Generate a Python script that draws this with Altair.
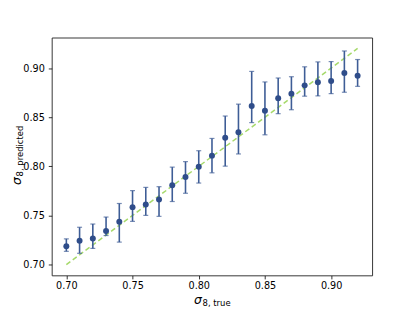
import altair as alt
import pandas as pd

# sigma_8 true values
true_vals = [0.70, 0.71, 0.72, 0.73, 0.74, 0.75, 0.76, 0.77, 0.78, 0.79, 0.80, 0.81,
             0.82, 0.83, 0.84, 0.85, 0.86, 0.87, 0.88, 0.89, 0.90, 0.91, 0.92]
# predicted mean
pred_vals = [0.7186, 0.7242, 0.7266, 0.7343, 0.7437, 0.7585, 0.7612, 0.7662, 0.7808,
             0.7891, 0.7995, 0.8109, 0.8290, 0.8347, 0.8613, 0.8566, 0.8693, 0.8740,
             0.8824, 0.8855, 0.8869, 0.8949, 0.8922]
# error bar lower / upper ends
err_low = [0.7135, 0.7115, 0.7165, 0.7296, 0.7229, 0.7440, 0.7501, 0.7491, 0.7642,
           0.7726, 0.7830, 0.7934, 0.8002, 0.8126, 0.8445, 0.8321, 0.8536, 0.8576,
           0.8714, 0.8717, 0.8740, 0.8754, 0.8814]
err_high = [0.7262, 0.7380, 0.7413, 0.7484, 0.7622, 0.7753, 0.7786, 0.7793, 0.7992,
            0.8048, 0.8159, 0.8284, 0.8512, 0.8633, 0.8966, 0.8859, 0.8899, 0.8912,
            0.9013, 0.9063, 0.9066, 0.9174, 0.9087]
# identity reference line
line_vals = [0.70, 0.92]
tick_vals = [0.70, 0.75, 0.80, 0.85, 0.90]

df = pd.DataFrame({"t": true_vals, "p": pred_vals, "lo": err_low, "hi": err_high})
line_df = pd.DataFrame({"t": line_vals, "p": line_vals})

xs = alt.Scale(domain=[0.689, 0.931], nice=False, zero=False)
ys = alt.Scale(domain=[0.689, 0.931], nice=False, zero=False)

font = "DejaVu Sans"
xax = alt.Axis(values=tick_vals, format=".2f", title=None, grid=False, domain=False,
               tickSize=3.5, tickWidth=0.8, tickColor="#000", labelPadding=2,
               labelFontSize=9.7, labelColor="#000", labelFont=font)
yax = alt.Axis(values=tick_vals, format=".2f", title=None, grid=False, domain=False,
               tickSize=3.5, tickWidth=0.8, tickColor="#000", labelPadding=4,
               labelFontSize=9.7, labelColor="#000", labelFont=font)

base = alt.Chart(df)

line = alt.Chart(line_df).mark_line(color="#a6d96a", strokeDash=[5, 3], strokeWidth=1.5).encode(
    x=alt.X("t:Q", scale=xs, axis=xax),
    y=alt.Y("p:Q", scale=ys, axis=yax),
)

bars = base.mark_rule(color="#3e5d96", strokeWidth=1.6).encode(
    x=alt.X("t:Q", scale=xs), y=alt.Y("lo:Q", scale=ys), y2="hi:Q"
)
cap_lo = base.mark_tick(orient="horizontal", color="#3e5d96", size=5, thickness=1.2).encode(
    x=alt.X("t:Q", scale=xs), y=alt.Y("lo:Q", scale=ys)
)
cap_hi = base.mark_tick(orient="horizontal", color="#3e5d96", size=5, thickness=1.2).encode(
    x=alt.X("t:Q", scale=xs), y=alt.Y("hi:Q", scale=ys)
)
pts = base.mark_point(filled=True, color="#2f4d8a", size=36, opacity=1).encode(
    x=alt.X("t:Q", scale=xs), y=alt.Y("p:Q", scale=ys)
)

one = alt.Data(values=[{"a": 1}])
xt1 = alt.Chart(one).mark_text(align="left", baseline="alphabetic", fontSize=12.5,
                               fontStyle="italic", font=font, color="#000").encode(
    text=alt.value("σ"), x=alt.value(143), y=alt.value(267.5))
xt2 = alt.Chart(one).mark_text(align="left", baseline="alphabetic", fontSize=8.5,
                               font=font, color="#000").encode(
    text=alt.value("8, true"), x=alt.value(151.5), y=alt.value(270))
yt1 = alt.Chart(one).mark_text(align="left", baseline="alphabetic", fontSize=12.5, angle=270,
                               fontStyle="italic", font=font, color="#000").encode(
    text=alt.value("σ"), x=alt.value(-31), y=alt.value(148))
yt2 = alt.Chart(one).mark_text(align="left", baseline="alphabetic", fontSize=8.5, angle=270,
                               font=font, color="#000").encode(
    text=alt.value("8, predicted"), x=alt.value(-28.5), y=alt.value(139.5))

chart = alt.layer(line, bars, cap_lo, cap_hi, pts, xt1, xt2, yt1, yt2).properties(
    width=322, height=239,
    autosize=alt.AutoSizeParams(type="none"),
    padding={"left": 44, "top": 29, "right": 35, "bottom": 36},
).configure(background="white").configure_view(stroke="#222", strokeWidth=0.9)

chart.save("out.html", embed_options={"renderer": "svg", "actions": False})
